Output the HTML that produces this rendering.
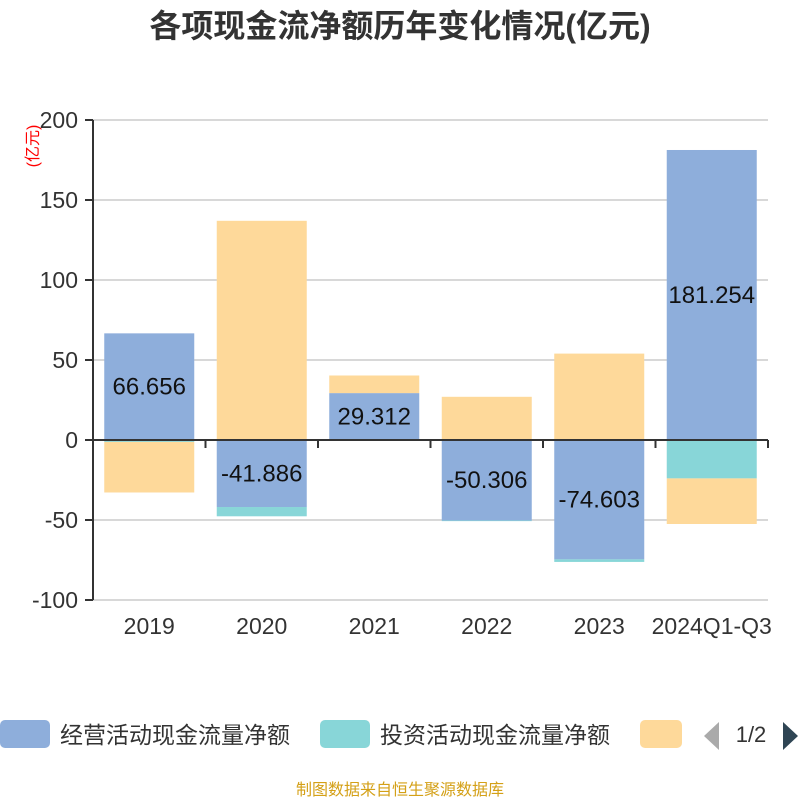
<!DOCTYPE html>
<html><head><meta charset="utf-8"><style>
body{margin:0;background:#fff;}
svg text{font-family:"Liberation Sans","Noto Sans CJK SC",sans-serif;}
</style></head><body>
<svg width="800" height="800" xmlns="http://www.w3.org/2000/svg">
<text x="400" y="37" text-anchor="middle" font-size="32" font-weight="bold" fill="#333">各项现金流净额历年变化情况(亿元)</text>
<text transform="translate(38,146) rotate(-90)" text-anchor="middle" font-size="16" fill="#f00">(亿元)</text>
<g id="grid"></g><g id="bars"></g><g id="axes"></g><g id="labels"></g>
<g>
<rect x="0" y="720" width="50" height="28" rx="5" fill="#8eaedb"/>
<text x="60" y="743" font-size="23" fill="#333">经营活动现金流量净额</text>
<rect x="320" y="720" width="50" height="28" rx="5" fill="#88d6d8"/>
<text x="380" y="743" font-size="23" fill="#333">投资活动现金流量净额</text>
<rect x="640" y="720" width="42" height="28" rx="5" fill="#fed99a"/>
<polygon points="719,722 719,750 704,736" fill="#aaa"/>
<text x="751" y="742" text-anchor="middle" font-size="22" fill="#333">1/2</text>
<polygon points="783,722 783,750 798,736" fill="#2f4554"/>
</g>
<text x="400" y="795" text-anchor="middle" font-size="16" fill="#d4a017">制图数据来自恒生聚源数据库</text>
</svg>
<script>
const categories=["2019","2020","2021","2022","2023","2024Q1-Q3"];
const operating=[66.656,-41.886,29.312,-50.306,-74.603,181.254];
const investing=[-1.2,-5.8,-0.5,-0.4,-1.6,-24];
const financing=[-31.6,137,11,27,54,-28.5];
const yTicks=[200,150,100,50,0,-50,-100];
const NS="http://www.w3.org/2000/svg";
const L=93,R=768,T=120,B=600,yMax=200,yMin=-100;
const y=v=>T+(yMax-v)/(yMax-yMin)*(B-T);
const bw=(R-L)/categories.length;
const xc=i=>L+bw*(i+0.5);
function mk(tag,attrs,parent,txt){const e=document.createElementNS(NS,tag);for(const k in attrs)e.setAttribute(k,attrs[k]);if(txt!=null)e.textContent=txt;document.getElementById(parent).appendChild(e);return e;}
yTicks.forEach(t=>{
 if(t!==0){const g=mk('line',{x1:L,x2:R,y1:y(t),y2:y(t),stroke:'#ccc','stroke-width':1.5},'grid');
 
 }
 const tk=mk('line',{x1:L-8,x2:L,y1:y(t),y2:y(t),stroke:'#333','stroke-width':2},'axes');
 
 
 const tl=mk('text',{x:L-15,y:y(t)+8,'text-anchor':'end','font-size':23,fill:'#333'},'axes',String(t));
 
 
});
const ya=mk('line',{x1:L,x2:L,y1:T,y2:B,stroke:'#333','stroke-width':2},'axes');


const xa=mk('line',{x1:L,x2:R,y1:y(0),y2:y(0),stroke:'#333','stroke-width':2},'axes');


for(let i=0;i<=categories.length;i++){
 const t=mk('line',{x1:L+bw*i,x2:L+bw*i,y1:y(0),y2:y(0)+8,stroke:'#333','stroke-width':2},'axes');
 
 
}
const series=[[operating,'#8eaedb','operating'],[investing,'#88d6d8','investing'],[financing,'#fed99a','financing']];
categories.forEach((c,i)=>{
 let pos=0,neg=0;
 series.forEach(([arr,col,nm])=>{
  const v=arr[i];let a,b;
  if(v>=0){a=pos;b=pos+v;pos=b;}else{a=neg;b=neg+v;neg=b;}
  const r=mk('rect',{x:xc(i)-45,width:90,y:Math.min(y(a),y(b)),height:Math.abs(y(a)-y(b)),fill:col},'bars');
  
  
 });
 const v=operating[i];
 const lb=mk('text',{x:xc(i),y:(y(0)+y(v))/2+8,'text-anchor':'middle','font-size':24,fill:'#111'},'labels',String(v));
 
 
 const xl=mk('text',{x:xc(i),y:634,'text-anchor':'middle','font-size':23,fill:'#333'},'labels',c);
 
 
});
</script>
</body></html>
